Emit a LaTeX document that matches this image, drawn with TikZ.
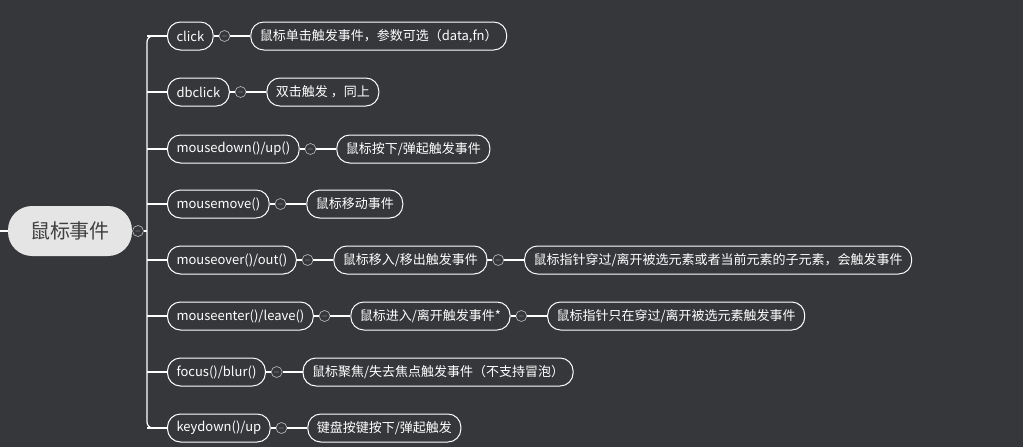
\documentclass[tikz,border=0pt]{standalone}
\usepackage{fontspec}
\usetikzlibrary{positioning}
\setmainfont{Noto Sans CJK SC}
\begin{document}
\begin{tikzpicture}[x=1pt,y=-1pt,
  every node/.style={font=\fontsize{13}{15}\selectfont, text=white},
  box/.style={draw=white, line width=1pt, rounded corners=13pt, minimum height=28pt, inner xsep=9pt},
  tog/.style={draw=white!75!black, circle, line width=0.6pt, minimum size=11pt, inner sep=0pt, fill=bg, font=\fontsize{8}{8}\selectfont, text=white!75!black},
  ln/.style={draw=white, line width=1.2pt}]
\definecolor{bg}{HTML}{36373B}
\fill[bg] (0,0) rectangle (1023,447);
\useasboundingbox (0,0) rectangle (1023,447);
\node[fill=white!90!black, rounded corners=24pt, minimum height=50pt, minimum width=124pt, text=black!75, font=\fontsize{20}{24}\selectfont] (root) at (70,231) {鼠标事件};
\coordinate (L) at (0,231);
\draw[ln] (L) -- (root.west);
\node[tog] (rc) at (138,231) {$-$};
\draw[ln] (root.east) -- (rc);
\draw[ln, rounded corners=6pt] (167,36) -- (147,36) -- (147,428) -- (167,428);
\draw[ln] (rc) -- (147,231);
\foreach \n/\y/\t/\d in {a/36/{click}/{鼠标单击触发事件，参数可选（data,fn）},
  b/92/{dbclick}/{双击触发 ，同上},
  c/149/{mousedown()/up()}/{鼠标按下/弹起触发事件},
  d/204/{mousemove()}/{鼠标移动事件},
  e/260/{mouseover()/out()}/{鼠标移入/移出触发事件},
  f/316/{mouseenter()/leave()}/{鼠标进入/离开触发事件*},
  g/372/{focus()/blur()}/{鼠标聚焦/失去焦点触发事件（不支持冒泡）},
  h/428/{keydown()/up}/{键盘按键按下/弹起触发}}{
  \draw[ln] (147,\y) -- (167,\y);
  \node[box, anchor=west] (\n) at (167,\y) {\t};
  \node[tog, right=5pt of \n] (\n c) {$-$};
  \draw[ln] (\n.east) -- (\n c);
  \node[box, right=20pt of \n c] (\n2) {\d};
  \draw[ln] (\n c) -- (\n2);
}
\node[tog, right=5pt of e2] (e2c) {$-$};
\draw[ln] (e2.east) -- (e2c);
\node[box, right=20pt of e2c] (e3) {鼠标指针穿过/离开被选元素或者当前元素的子元素，会触发事件};
\draw[ln] (e2c) -- (e3);
\node[tog, right=5pt of f2] (f2c) {$-$};
\draw[ln] (f2.east) -- (f2c);
\node[box, right=20pt of f2c] (f3) {鼠标指针只在穿过/离开被选元素触发事件};
\draw[ln] (f2c) -- (f3);
\end{tikzpicture}
\end{document}
